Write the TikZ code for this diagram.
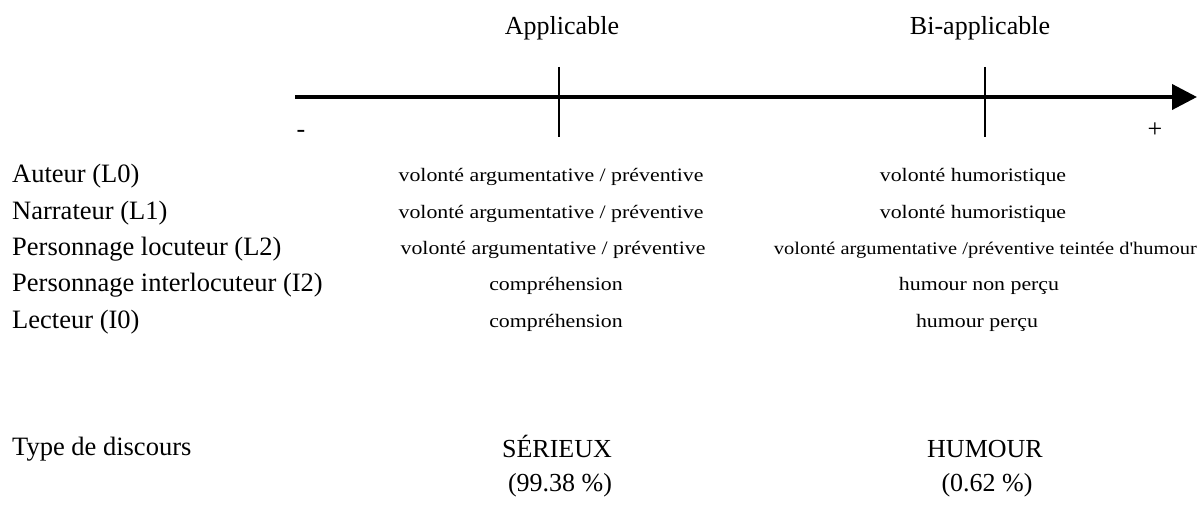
\documentclass[tikz,border=0pt]{standalone}
\usepackage{fontspec}
\setmainfont{Liberation Serif}
\newfontfamily\petite[FakeStretch=1.15]{Liberation Serif}
\usetikzlibrary{arrows.meta}

\begin{document}
\begin{tikzpicture}[x=1pt,y=-1pt,
    role/.style={anchor=west,inner sep=0pt,font=\fontsize{26.5}{30}\selectfont},
    entete/.style={inner sep=0pt,font=\fontsize{26}{30}\selectfont},
    valeur/.style={inner sep=0pt,font=\petite\fontsize{19}{22}\selectfont},
    repere/.style={line width=1.5pt}]
    \useasboundingbox (0,0) rectangle (1200,505);

    % axe et graduations
    \coordinate (debut) at (295,97);
    \coordinate (fin) at (1197,97);
    \coordinate (app_haut) at (559,67);
    \coordinate (app_bas) at (559,137);
    \coordinate (bi_haut) at (985,67);
    \coordinate (bi_bas) at (985,137);
    \draw [line width=4pt,-{Triangle[length=25pt, width=25pt]}] (debut) -- (fin);
    \draw [repere] (app_haut) -- (app_bas);
    \draw [repere] (bi_haut) -- (bi_bas);

    \node[entete] (applicable) at (562,28) {Applicable};
    \node[entete] (biapplicable) at (980,28) {Bi-applicable};
    \node[entete] (moins) at (301,134) {-};
    \node[entete] (plus) at (1155,130) {+};

    % instances
    \node[role] (auteur) at (12,176) {Auteur (L0)};
    \node[role] (narrateur) at (12,213) {Narrateur (L1)};
    \node[role] (locuteur) at (12,249) {Personnage locuteur (L2)};
    \node[role] (interlocuteur) at (12,285) {Personnage interlocuteur (I2)};
    \node[role] (lecteur) at (12,322) {Lecteur (I0)};
    \node[role] (discours) at (12,449) {Type de discours};

    % colonne applicable
    \node[valeur] (auteur_app) at (551,177) {volonté argumentative / préventive};
    \node[valeur] (narrateur_app) at (551,214) {volonté argumentative / préventive};
    \node[valeur] (locuteur_app) at (553,250) {volonté argumentative / préventive};
    \node[valeur] (interlocuteur_app) at (556,286) {compréhension};
    \node[valeur] (lecteur_app) at (556,323) {compréhension};
    \node[entete] (serieux) at (557,446) {SÉRIEUX};
    \node[entete] (serieux_pc) at (560,485) {(99.38 \%)};

    % colonne bi-applicable
    \node[valeur] (auteur_bi) at (973,177) {volonté humoristique};
    \node[valeur] (narrateur_bi) at (973,214) {volonté humoristique};
    \node[valeur,anchor=east,font=\petite\fontsize{17.8}{22}\selectfont] (locuteur_bi) at (1197,250) {volonté argumentative /préventive teintée d'humour};
    \node[valeur] (interlocuteur_bi) at (979,286) {humour non perçu};
    \node[valeur] (lecteur_bi) at (977,323) {humour perçu};
    \node[entete] (humour) at (985,449) {HUMOUR};
    \node[entete] (humour_pc) at (987,485) {(0.62 \%)};
\end{tikzpicture}
\end{document}
